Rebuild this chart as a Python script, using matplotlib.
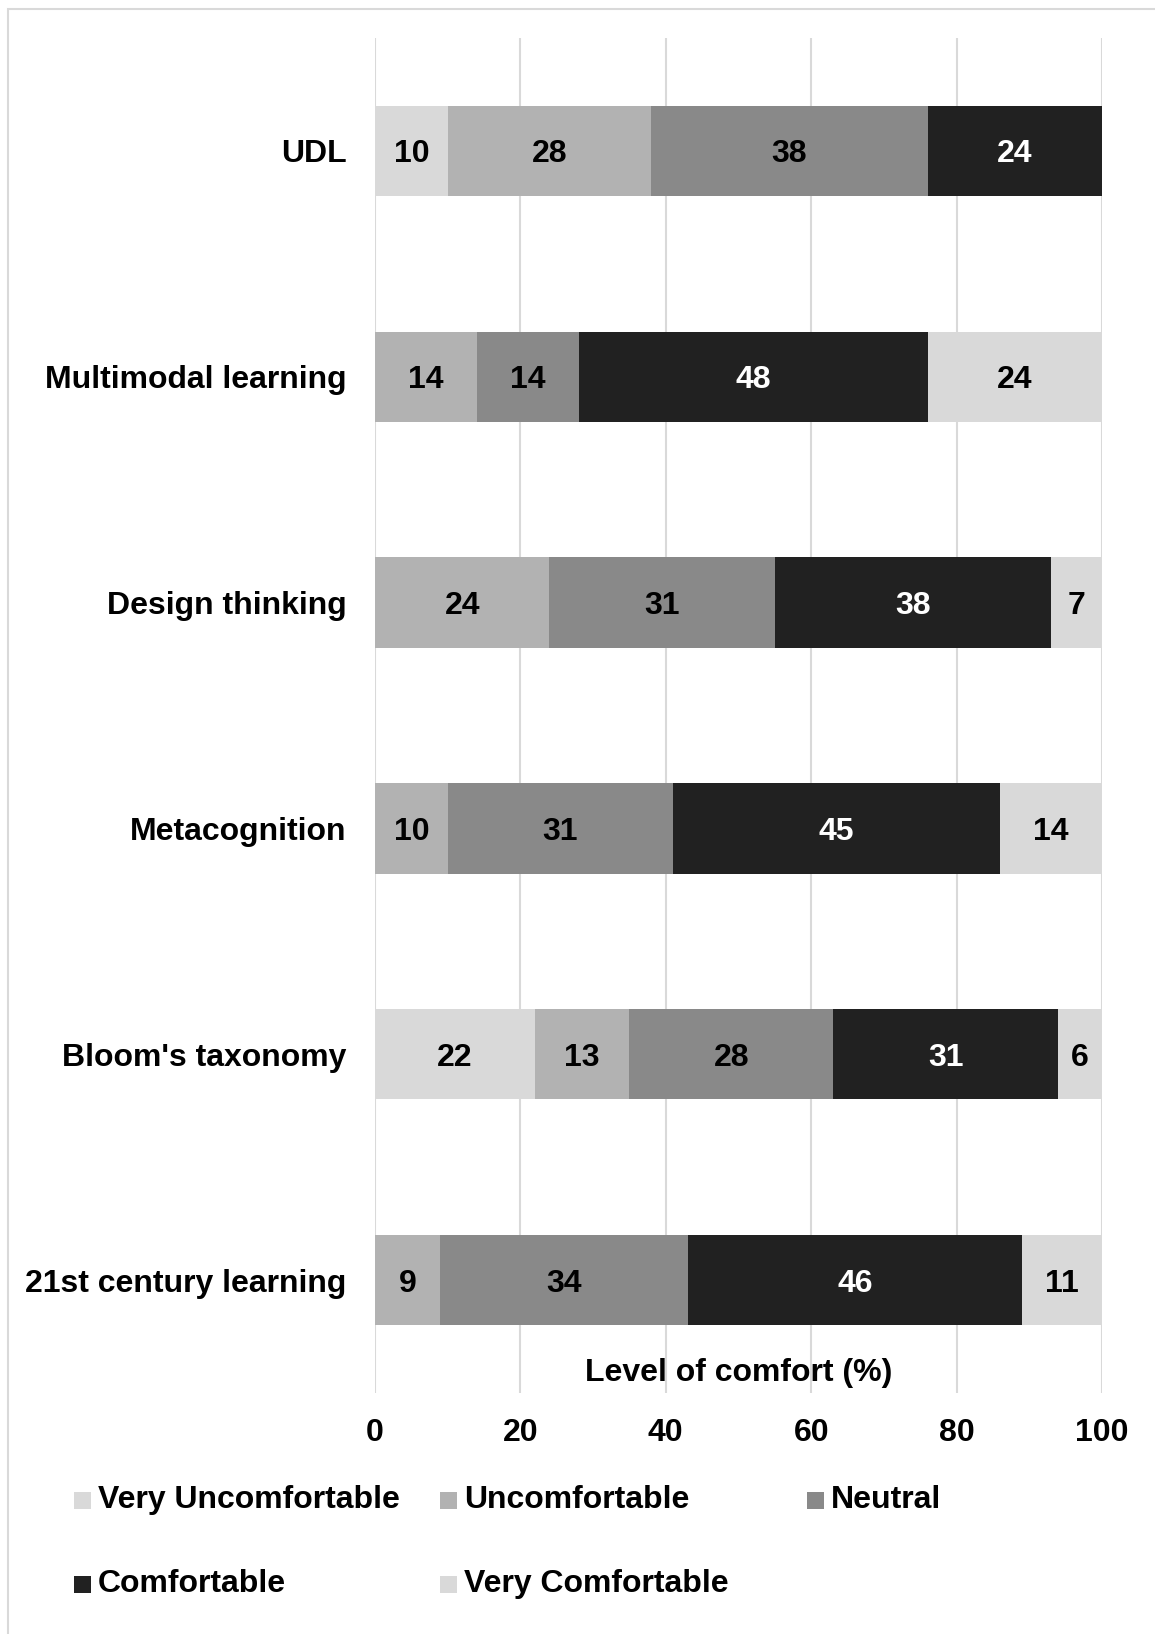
import matplotlib
matplotlib.use("Agg")
import matplotlib.pyplot as plt
from matplotlib.patches import Rectangle
import numpy as np

plt.rcParams['font.family'] = ['Liberation Sans', 'DejaVu Sans']
plt.rcParams['font.weight'] = 'bold'

categories = ["UDL", "Multimodal learning", "Design thinking", "Metacognition",
              "Bloom's taxonomy", "21st century learning"]
series_names = ["Very Uncomfortable", "Uncomfortable", "Neutral", "Comfortable", "Very Comfortable"]
very_uncomfortable = [10, 0, 0, 0, 22, 0]
uncomfortable = [28, 14, 24, 10, 13, 9]
neutral = [38, 14, 31, 31, 28, 34]
comfortable = [24, 48, 38, 45, 31, 46]
very_comfortable = [0, 24, 7, 14, 6, 11]
xticks = [0, 20, 40, 60, 80, 100]

series = [very_uncomfortable, uncomfortable, neutral, comfortable, very_comfortable]
colors = ["#d9d9d9", "#b2b2b2", "#898989", "#212121", "#d9d9d9"]
text_colors = ["black", "black", "black", "white", "black"]

W, H = 1155, 1634
fig = plt.figure(figsize=(W / 100, H / 100), dpi=100)
ax = fig.add_axes([375 / W, 1 - 1393 / H, (1102 - 375) / W, (1393 - 38) / H])

FS = 23
y = np.arange(len(categories))
left = np.zeros(len(categories))
for vals, col, tcol in zip(series, colors, text_colors):
    vals = np.array(vals, dtype=float)
    ax.barh(y, vals, left=left, height=0.4, color=col, edgecolor='none', zorder=2)
    for yi, (l, v) in enumerate(zip(left, vals)):
        if v > 0:
            ax.annotate(str(int(v)), xy=(l + v / 2, yi), xytext=(0, -2.5),
                        textcoords='offset points', ha='center', va='center',
                        color=tcol, fontsize=FS, fontweight='bold', zorder=3)
    left += vals

ax.set_ylim(len(categories) - 0.5, -0.5)
ax.set_xlim(0, 100)
ax.set_yticks(y)
ax.set_yticklabels(categories, fontsize=FS, fontweight='bold')
ax.set_xticks(xticks)
ax.set_xticklabels([str(t) for t in xticks], fontsize=FS, fontweight='bold')
ax.tick_params(axis='both', length=0)
ax.tick_params(axis='y', pad=20.5)
ax.tick_params(axis='x', pad=18)
for s in ax.spines.values():
    s.set_visible(False)
ax.grid(axis='x', color='#d9d9d9', linewidth=1.5, zorder=0)
ax.set_axisbelow(True)

ax.text(0.5, (1393 - 1373) / (1393 - 38), "Level of comfort (%)", transform=ax.transAxes,
        ha='center', va='center', fontsize=FS, fontweight='bold', zorder=3)

# legend (manual layout, 3 fixed-width columns)
leg_pos = [(74, 1500), (440, 1500), (807, 1500), (74, 1584), (440, 1584)]
sq = 17
for (lx, ly), name, col in zip(leg_pos, series_names, colors):
    fig.add_artist(Rectangle((lx / W, 1 - (ly + sq / 2) / H), sq / W, sq / H,
                             transform=fig.transFigure, facecolor=col, edgecolor='none'))
    fig.text((lx + 24) / W, 1 - ly / H, name, ha='left', va='center',
             fontsize=FS, fontweight='bold')

# outer frame (cropped at right/bottom)
fig.add_artist(Rectangle((7.5 / W, -0.05), 1.1, 1 - 9 / H + 0.05, transform=fig.transFigure,
                         fill=False, edgecolor='#d9d9d9', linewidth=1.5))

fig.savefig("out.png", dpi=100)
